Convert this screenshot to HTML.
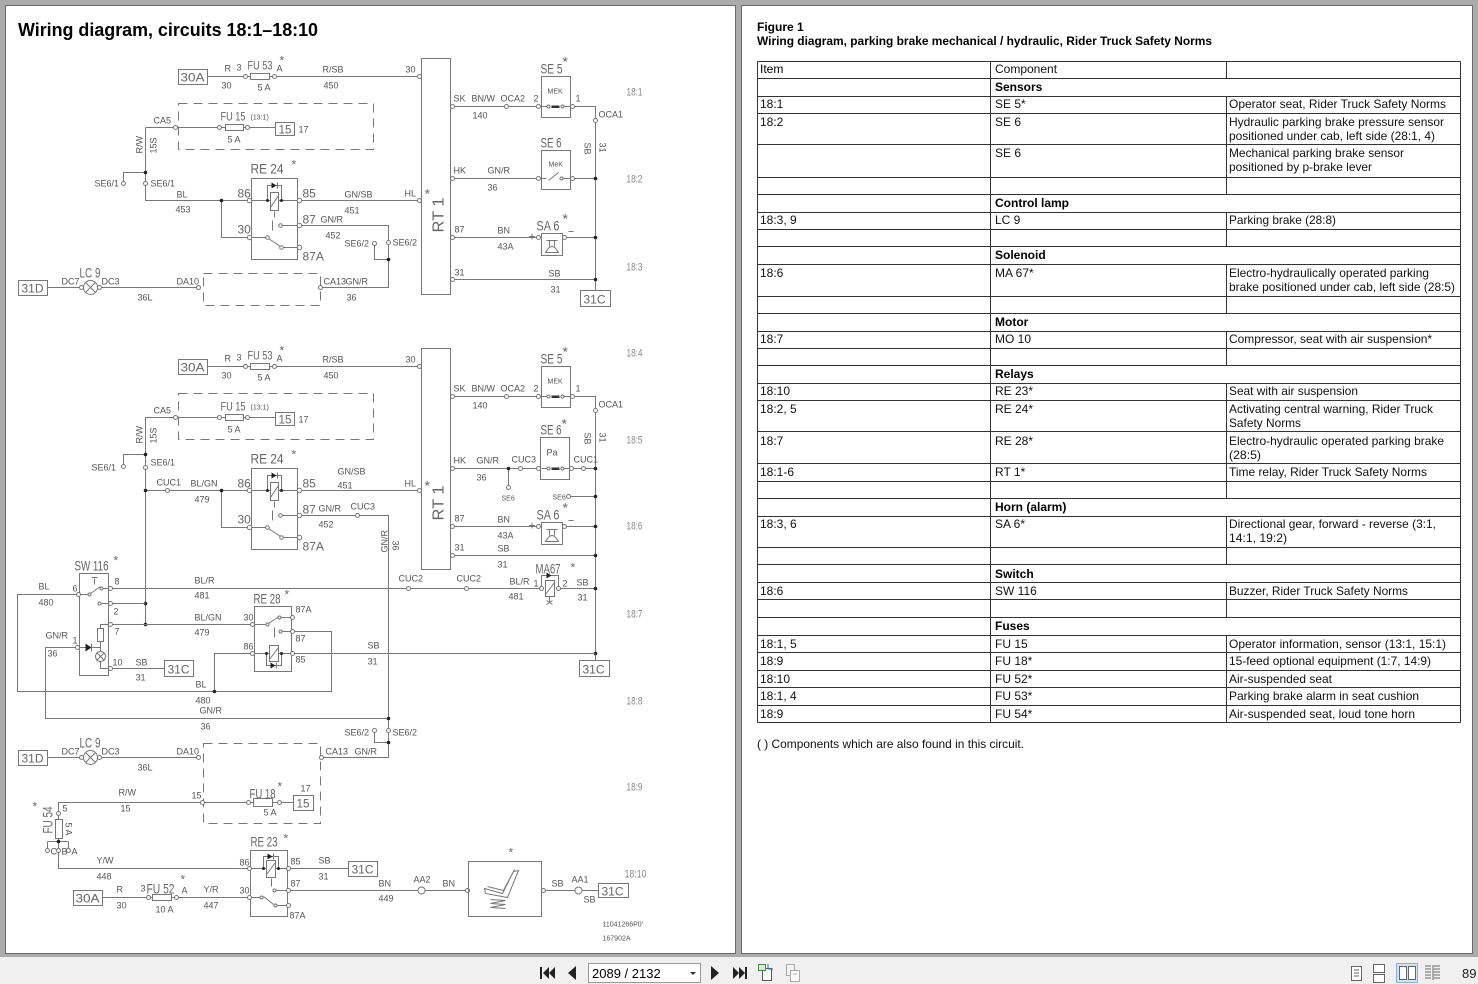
<!DOCTYPE html>
<html><head><meta charset="utf-8"><title>Wiring diagram, circuits 18:1–18:10</title>
<style>html,body{margin:0;padding:0;background:#ababab}svg{display:block}</style></head>
<body>
<svg width="1478" height="984" viewBox="0 0 1478 984" xmlns="http://www.w3.org/2000/svg">
<style>
text{font-family:"Liberation Sans",Arial,sans-serif}
.k{stroke:#777;fill:none;stroke-width:1}
.o{fill:#fff;stroke:#777;stroke-width:1}
.d{fill:#222}
.s{font-size:9px;fill:#555}
.x{font-size:7px;fill:#555}
.m{font-size:12px;fill:#666}
.b{font-size:14px;fill:#666}
.sec{font-size:11px;fill:#888}
.tt{font-size:12px;fill:#111}
.tb{font-size:12px;fill:#000;font-weight:bold}
.dash{stroke-dasharray:9 6}
.tl{stroke:#333;stroke-width:1;fill:none}
</style>
<rect x="0" y="0" width="1478" height="984" fill="#ababab"/>
<rect x="5.5" y="5.5" width="730" height="948" fill="#fff" stroke="#6a6a6a"/>
<rect x="741.5" y="5.5" width="731" height="948" fill="#fff" stroke="#6a6a6a"/>

<text x="18" y="36" font-size="18" font-weight="bold" fill="#000" textLength="300" lengthAdjust="spacingAndGlyphs">Wiring diagram, circuits 18:1–18:10</text>

<g transform="translate(0.5,0.5)">
<!-- ===== Fuse block A ===== -->
<g id="fa">
<rect class="k" x="178" y="69" width="29" height="15"/>
<path class="k" d="M207 76H243M247 76H250M269 76H272M276 76H417"/>
<rect class="k" x="250" y="73" width="19" height="6"/>
<circle class="o" cx="245" cy="76" r="2"/><circle class="o" cx="274" cy="76" r="2"/><circle class="o" cx="419" cy="76" r="2"/>
<rect class="k dash" x="178" y="103" width="195" height="46"/>
<path class="k" d="M145 127H173M177 127H217M221 127H225M243 127H245M249 127H275"/>
<rect class="k" x="225" y="124" width="18" height="6"/>
<rect class="k" x="275" y="122" width="19" height="13"/>
<circle class="o" cx="175" cy="127" r="2"/><circle class="o" cx="219" cy="127" r="2"/><circle class="o" cx="247" cy="127" r="2"/>
<text class="m" x="180" y="81" textLength="24" lengthAdjust="spacingAndGlyphs">30A</text>
<text class="s" x="224" y="71">R</text><text class="s" x="221" y="88">30</text><text class="s" x="236" y="70">3</text>
<text class="m" x="247" y="69" textLength="25" lengthAdjust="spacingAndGlyphs">FU 53</text><text class="m" x="279" y="64">*</text>
<text class="s" x="276" y="71">A</text><text class="s" x="257" y="90">5 A</text>
<text class="s" x="322" y="72">R/SB</text><text class="s" x="323" y="88">450</text><text class="s" x="405" y="72">30</text>
<text class="s" x="153" y="123">CA5</text>
<text class="m" x="220" y="120" textLength="25" lengthAdjust="spacingAndGlyphs">FU 15</text><text class="x" x="250" y="119">(13:1)</text>
<text class="m" x="278" y="133" textLength="13" lengthAdjust="spacingAndGlyphs">15</text><text class="s" x="298" y="132">17</text>
<text class="s" x="227" y="142">5 A</text>
<text class="s" transform="translate(142,153) rotate(-90)">R/W</text>
<text class="s" transform="translate(156,153) rotate(-90)">15S</text>
</g>
<g transform="translate(0,290)">
<rect class="k" x="178" y="69" width="29" height="15"/>
<path class="k" d="M207 76H243M247 76H250M269 76H272M276 76H417"/>
<rect class="k" x="250" y="73" width="19" height="6"/>
<circle class="o" cx="245" cy="76" r="2"/><circle class="o" cx="274" cy="76" r="2"/><circle class="o" cx="419" cy="76" r="2"/>
<rect class="k dash" x="178" y="103" width="195" height="46"/>
<path class="k" d="M145 127H173M177 127H217M221 127H225M243 127H245M249 127H275"/>
<rect class="k" x="225" y="124" width="18" height="6"/>
<rect class="k" x="275" y="122" width="19" height="13"/>
<circle class="o" cx="175" cy="127" r="2"/><circle class="o" cx="219" cy="127" r="2"/><circle class="o" cx="247" cy="127" r="2"/>
<text class="m" x="180" y="81" textLength="24" lengthAdjust="spacingAndGlyphs">30A</text>
<text class="s" x="224" y="71">R</text><text class="s" x="221" y="88">30</text><text class="s" x="236" y="70">3</text>
<text class="m" x="247" y="69" textLength="25" lengthAdjust="spacingAndGlyphs">FU 53</text><text class="m" x="279" y="64">*</text>
<text class="s" x="276" y="71">A</text><text class="s" x="257" y="90">5 A</text>
<text class="s" x="322" y="72">R/SB</text><text class="s" x="323" y="88">450</text><text class="s" x="405" y="72">30</text>
<text class="s" x="153" y="123">CA5</text>
<text class="m" x="220" y="120" textLength="25" lengthAdjust="spacingAndGlyphs">FU 15</text><text class="x" x="250" y="119">(13:1)</text>
<text class="m" x="278" y="133" textLength="13" lengthAdjust="spacingAndGlyphs">15</text><text class="s" x="298" y="132">17</text>
<text class="s" x="227" y="142">5 A</text>
<text class="s" transform="translate(142,153) rotate(-90)">R/W</text>
<text class="s" transform="translate(156,153) rotate(-90)">15S</text>
</g>

<!-- ===== Section A specifics ===== -->
<path class="k" d="M145 127V181M145 172H123V181M145 185V200H247M221 200V237H247"/>
<circle class="d" cx="145" cy="172" r="1.8"/><circle class="d" cx="221" cy="200" r="1.8"/>
<circle class="o" cx="123" cy="183" r="2"/><circle class="o" cx="145" cy="183" r="2"/>
<text class="s" x="94" y="186">SE6/1</text><text class="s" x="150" y="186">SE6/1</text>
<text class="s" x="176" y="197">BL</text><text class="s" x="175" y="212">453</text>

<!-- RE24 A -->
<g transform="translate(251,178)">
<rect class="k" x="0" y="0" width="46" height="81"/>
<path class="k" d="M0 22H19M27 22H46M16 22V7H30V22M23 33V39M21 42V52M0 59H14M17 60L29 68M32 69H46M31 47H46M19 29L27 17"/>
<rect class="k" x="19" y="14" width="8" height="18"/>
<polygon class="d" points="20,4 20,10 25,7"/><path class="k" d="M26 4V10"/>
<circle class="d" cx="16" cy="22" r="1.5"/><circle class="d" cx="30" cy="22" r="1.5"/>
<circle class="o" cx="-2" cy="22" r="2.2"/><circle class="o" cx="48" cy="22" r="2.2"/><circle class="o" cx="48" cy="47" r="2.2"/><circle class="o" cx="-2" cy="59" r="2.2"/><circle class="o" cx="48" cy="69" r="2.2"/>
<circle class="o" cx="29" cy="47" r="1.8"/><circle class="o" cx="16" cy="59" r="1.8"/><circle class="o" cx="30" cy="69" r="1.8"/>
<text class="m" x="-14" y="19">86</text><text class="m" x="51" y="19">85</text><text class="m" x="51" y="45">87</text><text class="m" x="-14" y="55">30</text><text class="m" x="51" y="82">87A</text>
<text class="b" x="-1" y="-5" textLength="33" lengthAdjust="spacingAndGlyphs">RE 24</text><text class="m" x="40" y="-10">*</text>
</g>
<path class="k" d="M301 200H417M301 225H388V240M374 245V259H388M388 244V287H322"/>
<circle class="o" cx="419" cy="200" r="2"/><circle class="o" cx="388" cy="242" r="2"/><circle class="o" cx="374" cy="243" r="2"/><circle class="o" cx="320" cy="287" r="2"/>
<circle class="d" cx="388" cy="259" r="1.8"/>
<text class="s" x="344" y="197">GN/SB</text><text class="s" x="344" y="213">451</text><text class="s" x="404" y="196">HL</text>
<text class="s" x="320" y="222">GN/R</text><text class="s" x="325" y="238">452</text>
<text class="s" x="392" y="245">SE6/2</text><text class="s" x="344" y="246">SE6/2</text>
<rect class="k dash" x="203" y="273" width="117" height="32"/>
<text class="s" x="323" y="284">CA13</text><text class="s" x="345" y="284">GN/R</text><text class="s" x="346" y="300">36</text>

<!-- LC9 A and B -->
<g id="lc">
<rect class="k" x="18" y="280" width="29" height="15"/>
<text class="m" x="21" y="292" textLength="22" lengthAdjust="spacingAndGlyphs">31D</text>
<path class="k" d="M47 287H79M101 287H196M85 282L95 292M85 292L95 282"/>
<circle class="o" cx="81" cy="287" r="2"/><circle class="k" cx="90" cy="287" r="7"/><circle class="o" cx="99" cy="287" r="2"/><circle class="o" cx="198" cy="287" r="2"/>
<text class="b" x="79" y="277" textLength="21" lengthAdjust="spacingAndGlyphs">LC 9</text>
<text class="s" x="61" y="284">DC7</text><text class="s" x="101" y="284">DC3</text><text class="s" x="137" y="300">36L</text><text class="s" x="176" y="284">DA10</text>
</g>
<g transform="translate(0,470)">
<rect class="k" x="18" y="280" width="29" height="15"/>
<text class="m" x="21" y="292" textLength="22" lengthAdjust="spacingAndGlyphs">31D</text>
<path class="k" d="M47 287H79M101 287H196M85 282L95 292M85 292L95 282"/>
<circle class="o" cx="81" cy="287" r="2"/><circle class="k" cx="90" cy="287" r="7"/><circle class="o" cx="99" cy="287" r="2"/><circle class="o" cx="198" cy="287" r="2"/>
<text class="b" x="79" y="277" textLength="21" lengthAdjust="spacingAndGlyphs">LC 9</text>
<text class="s" x="61" y="284">DC7</text><text class="s" x="101" y="284">DC3</text><text class="s" x="137" y="300">36L</text><text class="s" x="176" y="284">DA10</text>
</g>

<!-- RT1 A -->
<rect class="k" x="421" y="58" width="29" height="236"/>
<text transform="translate(443,232) rotate(-90)" font-size="16" fill="#666" textLength="35" lengthAdjust="spacingAndGlyphs">RT 1</text>
<text class="b" x="424" y="198">*</text>

<!-- SK row A -->
<g id="sk">
<path class="k" d="M454 106H504M508 106H536M574 106H595V118"/>
<circle class="o" cx="452" cy="106" r="2"/><circle class="o" cx="506" cy="106" r="2"/><circle class="o" cx="538" cy="106" r="2"/><circle class="o" cx="595" cy="120" r="2"/>
<g transform="translate(541,76)">
<rect class="k" x="0" y="0" width="29" height="41"/>
<path class="k" d="M0 30H5.5M22.5 30H29"/>
<circle class="o" cx="7" cy="30" r="1.5"/><rect x="10" y="29" width="8" height="2.5" fill="#333"/><circle class="o" cx="21" cy="30" r="1.5"/>
<circle class="o" cx="31" cy="30" r="2"/>
<text class="x" x="6" y="17">MEK</text>
</g>
<text class="s" x="453" y="101">SK</text><text class="s" x="471" y="101">BN/W</text><text class="s" x="500" y="101">OCA2</text><text class="s" x="472" y="118">140</text>
<text class="s" x="533" y="101">2</text><text class="s" x="575" y="101">1</text><text class="s" x="598" y="117">OCA1</text>
<text class="b" x="540" y="73" textLength="22" lengthAdjust="spacingAndGlyphs">SE 5</text><text class="b" x="562" y="66">*</text>
<text class="s" transform="translate(584,142) rotate(90)">SB</text><text class="s" transform="translate(599,142) rotate(90)">31</text>
</g>
<path class="k" d="M595 122V290"/>
<!-- HK A -->
<path class="k" d="M454 178H536M541 178H546M548 180L558 172M563 178H570M574 178H595"/>
<circle class="o" cx="452" cy="178" r="2"/><circle class="o" cx="538" cy="178" r="2"/><circle class="o" cx="561" cy="178" r="1.5"/><circle class="o" cx="572" cy="178" r="2"/>
<rect class="k" x="541" y="150" width="29" height="39"/>
<circle class="d" cx="595" cy="178" r="1.8"/>
<text class="x" x="548" y="166">MeK</text>
<text class="s" x="453" y="173">HK</text><text class="s" x="487" y="173">GN/R</text><text class="s" x="487" y="190">36</text>
<text class="b" x="540" y="147" textLength="21" lengthAdjust="spacingAndGlyphs">SE 6</text>
<!-- SA A -->
<g id="sa">
<path class="k" d="M454 237H536M566 237H595M568 231H573"/>
<circle class="o" cx="452" cy="237" r="2"/><circle class="o" cx="538" cy="237" r="2"/><circle class="o" cx="564" cy="237" r="2"/>
<rect class="k" x="541" y="233" width="21" height="22"/>
<path class="k" d="M546 240H557M549 240V246M554 240V246M545 252Q551.5 240 558 252Z"/>
<circle class="d" cx="595" cy="237" r="1.8"/>
<text class="s" x="454" y="232">87</text><text class="s" x="497" y="233">BN</text><text class="s" x="497" y="249">43A</text>
<text class="m" x="528" y="240">+</text>
<text class="b" x="536" y="230" textLength="23" lengthAdjust="spacingAndGlyphs">SA 6</text><text class="b" x="562" y="223">*</text>
</g>
<!-- 31 A -->
<path class="k" d="M454 279H595"/>
<circle class="o" cx="452" cy="279" r="2"/><circle class="d" cx="595" cy="279" r="1.8"/>
<text class="s" x="454" y="275">31</text><text class="s" x="548" y="276">SB</text><text class="s" x="550" y="292">31</text>
<rect class="k" x="580" y="290" width="30" height="16"/>
<text class="m" x="583" y="303" textLength="22" lengthAdjust="spacingAndGlyphs">31C</text>

<!-- section labels -->
<text class="sec" x="626" y="95" textLength="16" lengthAdjust="spacingAndGlyphs">18:1</text>
<text class="sec" x="626" y="182" textLength="16" lengthAdjust="spacingAndGlyphs">18:2</text>
<text class="sec" x="626" y="270" textLength="16" lengthAdjust="spacingAndGlyphs">18:3</text>
<text class="sec" x="626" y="356" textLength="16" lengthAdjust="spacingAndGlyphs">18:4</text>
<text class="sec" x="626" y="443" textLength="16" lengthAdjust="spacingAndGlyphs">18:5</text>
<text class="sec" x="626" y="529" textLength="16" lengthAdjust="spacingAndGlyphs">18:6</text>
<text class="sec" x="626" y="617" textLength="16" lengthAdjust="spacingAndGlyphs">18:7</text>
<text class="sec" x="626" y="704" textLength="16" lengthAdjust="spacingAndGlyphs">18:8</text>
<text class="sec" x="626" y="790" textLength="16" lengthAdjust="spacingAndGlyphs">18:9</text>
<text class="sec" x="624" y="877" textLength="22" lengthAdjust="spacingAndGlyphs">18:10</text>

<!-- ===== Section B ===== -->
<path class="k" d="M145 417V454H123V464M145 454V465M145 469V624M145 490H165M169 490H247M221 490V527H247"/>
<circle class="d" cx="145" cy="454" r="1.8"/><circle class="d" cx="145" cy="490" r="1.8"/><circle class="d" cx="221" cy="490" r="1.8"/>
<circle class="d" cx="145" cy="603" r="1.8"/><circle class="d" cx="145" cy="624" r="1.8"/>
<circle class="o" cx="123" cy="466" r="2"/><circle class="o" cx="145" cy="467" r="2"/><circle class="o" cx="167" cy="490" r="2"/>
<text class="s" x="91" y="470">SE6/1</text><text class="s" x="150" y="465">SE6/1</text>
<text class="s" x="156" y="485">CUC1</text><text class="s" x="190" y="486">BL/GN</text><text class="s" x="194" y="502">479</text>
<!-- RE24 B -->
<g transform="translate(251,468)">
<rect class="k" x="0" y="0" width="46" height="81"/>
<path class="k" d="M0 22H19M27 22H46M16 22V7H30V22M23 33V39M21 42V52M0 59H14M17 60L29 68M32 69H46M31 47H46M19 29L27 17"/>
<rect class="k" x="19" y="14" width="8" height="18"/>
<polygon class="d" points="20,4 20,10 25,7"/><path class="k" d="M26 4V10"/>
<circle class="d" cx="16" cy="22" r="1.5"/><circle class="d" cx="30" cy="22" r="1.5"/>
<circle class="o" cx="-2" cy="22" r="2.2"/><circle class="o" cx="48" cy="22" r="2.2"/><circle class="o" cx="48" cy="47" r="2.2"/><circle class="o" cx="-2" cy="59" r="2.2"/><circle class="o" cx="48" cy="69" r="2.2"/>
<circle class="o" cx="29" cy="47" r="1.8"/><circle class="o" cx="16" cy="59" r="1.8"/><circle class="o" cx="30" cy="69" r="1.8"/>
<text class="m" x="-14" y="19">86</text><text class="m" x="51" y="19">85</text><text class="m" x="51" y="45">87</text><text class="m" x="-14" y="55">30</text><text class="m" x="51" y="82">87A</text>
<text class="b" x="-1" y="-5" textLength="33" lengthAdjust="spacingAndGlyphs">RE 24</text><text class="m" x="40" y="-10">*</text>
</g>
<path class="k" d="M301 490H417M301 515H355M359 515H388V728M388 732V757H323"/>
<circle class="o" cx="419" cy="490" r="2"/><circle class="o" cx="357" cy="515" r="2"/><circle class="o" cx="388" cy="730" r="2"/><circle class="o" cx="321" cy="757" r="2"/>
<text class="s" x="337" y="474">GN/SB</text><text class="s" x="337" y="488">451</text><text class="s" x="404" y="486">HL</text>
<text class="s" x="318" y="511">GN/R</text><text class="s" x="318" y="527">452</text><text class="s" x="350" y="509">CUC3</text>
<text class="s" transform="translate(387,552) rotate(-90)">GN/R</text>
<text class="s" transform="translate(392,540) rotate(90)">36</text>
<!-- RT1 B -->
<rect class="k" x="421" y="348" width="29" height="221"/>
<text transform="translate(443,520) rotate(-90)" font-size="16" fill="#666" textLength="35" lengthAdjust="spacingAndGlyphs">RT 1</text>
<text class="b" x="424" y="490">*</text>
<!-- SK B -->
<g transform="translate(0,290)">
<path class="k" d="M454 106H504M508 106H536M574 106H595V118"/>
<circle class="o" cx="452" cy="106" r="2"/><circle class="o" cx="506" cy="106" r="2"/><circle class="o" cx="538" cy="106" r="2"/><circle class="o" cx="595" cy="120" r="2"/>
<g transform="translate(541,76)">
<rect class="k" x="0" y="0" width="29" height="41"/>
<path class="k" d="M0 30H5.5M22.5 30H29"/>
<circle class="o" cx="7" cy="30" r="1.5"/><rect x="10" y="29" width="8" height="2.5" fill="#333"/><circle class="o" cx="21" cy="30" r="1.5"/>
<circle class="o" cx="31" cy="30" r="2"/>
<text class="x" x="6" y="17">MEK</text>
</g>
<text class="s" x="453" y="101">SK</text><text class="s" x="471" y="101">BN/W</text><text class="s" x="500" y="101">OCA2</text><text class="s" x="472" y="118">140</text>
<text class="s" x="533" y="101">2</text><text class="s" x="575" y="101">1</text><text class="s" x="598" y="117">OCA1</text>
<text class="b" x="540" y="73" textLength="22" lengthAdjust="spacingAndGlyphs">SE 5</text><text class="b" x="562" y="66">*</text>
<text class="s" transform="translate(584,142) rotate(90)">SB</text><text class="s" transform="translate(599,142) rotate(90)">31</text>
</g>
<path class="k" d="M595 412V660"/>
<!-- HK B -->
<path class="k" d="M454 468H506M508 468V485M510 468H518M522 468H536M541 468H546M564 468H569M573 468H581M585 468H595M570 496H595"/>
<circle class="o" cx="452" cy="468" r="2"/><circle class="d" cx="508" cy="468" r="1.8"/><circle class="o" cx="508" cy="487" r="2"/>
<circle class="o" cx="520" cy="468" r="2"/><circle class="o" cx="538" cy="468" r="2"/>
<rect class="k" x="540" y="437" width="29" height="42"/>
<circle class="o" cx="548" cy="468" r="1.5"/><rect x="551" y="467" width="8" height="2.5" fill="#333"/><circle class="o" cx="562" cy="468" r="1.5"/>
<circle class="o" cx="571" cy="468" r="2"/><circle class="o" cx="583" cy="468" r="2"/><circle class="d" cx="595" cy="468" r="1.8"/>
<circle class="o" cx="568" cy="496" r="2"/><circle class="d" cx="595" cy="496" r="1.8"/>
<text class="s" x="453" y="463">HK</text><text class="s" x="476" y="463">GN/R</text><text class="s" x="476" y="480">36</text>
<text class="s" x="511" y="462">CUC3</text><text class="s" x="573" y="462">CUC1</text>
<text class="x" x="501" y="500">SE6</text><text class="x" x="552" y="499">SE6</text>
<text class="s" x="546" y="455">Pa</text>
<text class="b" x="540" y="434" textLength="21" lengthAdjust="spacingAndGlyphs">SE 6</text><text class="b" x="561" y="428">*</text>
<!-- SA B -->
<g transform="translate(0,289)">
<path class="k" d="M454 237H536M566 237H595M568 231H573"/>
<circle class="o" cx="452" cy="237" r="2"/><circle class="o" cx="538" cy="237" r="2"/><circle class="o" cx="564" cy="237" r="2"/>
<rect class="k" x="541" y="233" width="21" height="22"/>
<path class="k" d="M546 240H557M549 240V246M554 240V246M545 252Q551.5 240 558 252Z"/>
<circle class="d" cx="595" cy="237" r="1.8"/>
<text class="s" x="454" y="232">87</text><text class="s" x="497" y="233">BN</text><text class="s" x="497" y="249">43A</text>
<text class="m" x="528" y="240">+</text>
<text class="b" x="536" y="230" textLength="23" lengthAdjust="spacingAndGlyphs">SA 6</text><text class="b" x="562" y="223">*</text>
</g>
<!-- 31 B -->
<path class="k" d="M454 555H595"/>
<circle class="o" cx="452" cy="555" r="2"/><circle class="d" cx="595" cy="555" r="1.8"/>
<text class="s" x="454" y="550">31</text><text class="s" x="497" y="551">SB</text><text class="s" x="497" y="567">31</text>
<!-- BL/R & MA67 -->
<path class="k" d="M112 588H406M410 588H464M468 588H539M541 586V575H558V586M560 588H595M545 594L554 582M549 596V602M546 600L552 604M546 604L552 600"/>
<rect class="k" x="545" y="580" width="9" height="16"/>
<polygon class="d" points="546,572 546,578 551,575"/>
<circle class="o" cx="408" cy="588" r="2"/><circle class="o" cx="466" cy="588" r="2"/><circle class="o" cx="541" cy="588" r="2"/><circle class="o" cx="558" cy="588" r="2"/>
<circle class="d" cx="595" cy="588" r="1.8"/>
<text class="s" x="398" y="581">CUC2</text><text class="s" x="456" y="581">CUC2</text>
<text class="s" x="509" y="584">BL/R</text><text class="s" x="508" y="599">481</text>
<text class="s" x="533" y="586">1</text><text class="s" x="562" y="586">2</text>
<text class="s" x="576" y="585">SB</text><text class="s" x="577" y="600">31</text>
<text class="b" x="535" y="573" textLength="25" lengthAdjust="spacingAndGlyphs">MA67</text><text class="m" x="570" y="571">*</text>
<circle class="d" cx="595" cy="653" r="1.8"/>
<rect class="k" x="579" y="660" width="30" height="16"/>
<text class="m" x="582" y="673" textLength="22" lengthAdjust="spacingAndGlyphs">31C</text>

<!-- SW116 -->
<rect class="k" x="79" y="573" width="29" height="102"/>
<text class="b" x="74" y="570" textLength="34" lengthAdjust="spacingAndGlyphs">SW 116</text><text class="m" x="113" y="564">*</text>
<path class="k" d="M76 594H17V691H331V631H294M214 691V653H250M80 594H87M90 593L100 586M103 588H108M91 577H97M94 578V584M101 603H108M112 603H145M112 624H250M108 624H100V628M100 641V651M100 661V668H108M112 668H164M75 647H45V718H386M79 647H85M91 647H100M96 652L104 660M96 660L104 652"/>
<rect class="k" x="97" y="628" width="6" height="13"/>
<polygon class="d" points="85,643 85,651 91,647"/><path class="k" d="M91 643V651"/>
<circle class="k" cx="100" cy="656" r="5"/>
<circle class="o" cx="78" cy="594" r="2"/><circle class="o" cx="89" cy="594" r="1.5"/><circle class="o" cx="101" cy="588" r="1.5"/><circle class="o" cx="110" cy="588" r="2"/>
<circle class="o" cx="99" cy="603" r="1.5"/><circle class="o" cx="110" cy="603" r="2"/><circle class="o" cx="110" cy="624" r="2"/>
<circle class="o" cx="77" cy="647" r="2"/><circle class="o" cx="110" cy="668" r="2"/>
<circle class="d" cx="214" cy="691" r="1.8"/><circle class="d" cx="388" cy="718" r="1.8"/>
<rect class="k" x="164" y="660" width="29" height="16"/>
<text class="m" x="167" y="673" textLength="22" lengthAdjust="spacingAndGlyphs">31C</text>
<text class="s" x="38" y="589">BL</text><text class="s" x="38" y="605">480</text>
<text class="s" x="72" y="591">6</text><text class="s" x="114" y="584">8</text><text class="s" x="113" y="614">2</text><text class="s" x="114" y="634">7</text>
<text class="s" x="72" y="643">1</text><text class="s" x="112" y="665">10</text>
<text class="s" x="135" y="665">SB</text><text class="s" x="135" y="680">31</text>
<text class="s" x="45" y="638">GN/R</text><text class="s" x="47" y="656">36</text>
<text class="s" x="194" y="583">BL/R</text><text class="s" x="194" y="598">481</text>
<text class="s" x="194" y="620">BL/GN</text><text class="s" x="194" y="635">479</text>
<text class="s" x="195" y="687">BL</text><text class="s" x="195" y="703">480</text>
<text class="s" x="199" y="713">GN/R</text><text class="s" x="200" y="729">36</text>

<!-- RE28 -->
<rect class="k" x="254" y="606" width="37" height="65"/>
<text class="b" x="253" y="603" textLength="27" lengthAdjust="spacingAndGlyphs">RE 28</text><text class="m" x="284" y="598">*</text>
<path class="k" d="M254 624H265M268 623L277 617M281 617H290M282 631H290M274 627V637M254 653H269M278 653H290M266 653V665H281V653M269 659L278 647M294 653H595"/>
<rect class="k" x="269" y="645" width="9" height="16"/>
<polygon class="d" points="270,662 270,668 275,665"/><path class="k" d="M276 662V668"/>
<circle class="d" cx="266" cy="653" r="1.5"/><circle class="d" cx="281" cy="653" r="1.5"/>
<circle class="o" cx="252" cy="624" r="2"/><circle class="o" cx="267" cy="624" r="1.5"/><circle class="o" cx="279" cy="617" r="1.5"/><circle class="o" cx="292" cy="617" r="2"/>
<circle class="o" cx="280" cy="631" r="1.5"/><circle class="o" cx="292" cy="631" r="2"/><circle class="o" cx="252" cy="653" r="2"/><circle class="o" cx="292" cy="653" r="2"/>
<text class="s" x="243" y="620">30</text><text class="s" x="295" y="612">87A</text><text class="s" x="295" y="641">87</text>
<text class="s" x="243" y="649">86</text><text class="s" x="295" y="662">85</text>
<text class="s" x="367" y="648">SB</text><text class="s" x="367" y="664">31</text>

<!-- SE6/2 B -->
<path class="k" d="M374 732V742H388"/>
<circle class="o" cx="374" cy="730" r="2"/><circle class="d" cx="388" cy="742" r="1.8"/>
<text class="s" x="392" y="735">SE6/2</text><text class="s" x="344" y="735">SE6/2</text>
<text class="s" x="325" y="754">CA13</text><text class="s" x="354" y="754">GN/R</text>
<rect class="k dash" x="203" y="743" width="117" height="80"/>

<!-- FU18 / FU54 -->
<path class="k" d="M58 811V802H200M204 802H246M250 802H253M272 802H277M281 802H293M58 815V819M58 838V841M47 841H68M47 841V848M58 841V848M68 841V848M58 852V868H247"/>
<rect class="k" x="253" y="798" width="19" height="8"/>
<rect class="k" x="293" y="795" width="20" height="15"/>
<rect class="k" x="55" y="819" width="7" height="19"/>
<circle class="o" cx="202" cy="802" r="2"/><circle class="o" cx="248" cy="802" r="2"/><circle class="o" cx="279" cy="802" r="2"/>
<circle class="o" cx="58" cy="813" r="2"/><circle class="d" cx="58" cy="841" r="1.8"/>
<circle class="o" cx="47" cy="850" r="2"/><circle class="o" cx="58" cy="850" r="2"/><circle class="o" cx="68" cy="850" r="2"/>
<text class="s" x="118" y="795">R/W</text><text class="s" x="120" y="811">15</text><text class="s" x="191" y="798">15</text>
<text class="b" x="249" y="798" textLength="26" lengthAdjust="spacingAndGlyphs">FU 18</text><text class="m" x="277" y="790">*</text>
<text class="s" x="300" y="791">17</text><text class="m" x="296" y="807" textLength="13" lengthAdjust="spacingAndGlyphs">15</text>
<text class="s" x="263" y="815">5 A</text>
<text class="m" x="32" y="810">*</text>
<text class="b" transform="translate(52,833) rotate(-90)" textLength="27" lengthAdjust="spacingAndGlyphs">FU 54</text>
<text class="s" x="62" y="811">5</text>
<text class="s" transform="translate(65,822) rotate(90)">5 A</text>
<text class="s" x="50" y="854">C</text><text class="s" x="61" y="854">B</text><text class="s" x="71" y="854">A</text>
<text class="s" x="96" y="863">Y/W</text><text class="s" x="96" y="879">448</text>

<!-- RE23 -->
<rect class="k" x="250" y="850" width="37" height="66"/>
<text class="b" x="250" y="846" textLength="27" lengthAdjust="spacingAndGlyphs">RE 23</text><text class="m" x="283" y="842">*</text>
<path class="k" d="M251 868H266M275 868H286M263 868V856H278V868M266 874L275 862M271 878V886M251 897H260M263 896L273 904M277 905H286M276 890H286M290 868H348M290 890H418M102 897H146M150 897H152M171 897H174M178 897H247"/>
<rect class="k" x="266" y="860" width="9" height="17"/>
<polygon class="d" points="267,853 267,859 272,856"/><path class="k" d="M273 853V859"/>
<circle class="d" cx="263" cy="868" r="1.5"/><circle class="d" cx="278" cy="868" r="1.5"/>
<circle class="o" cx="249" cy="868" r="2"/><circle class="o" cx="288" cy="868" r="2"/><circle class="o" cx="288" cy="890" r="2"/><circle class="o" cx="274" cy="890" r="1.5"/>
<circle class="o" cx="249" cy="897" r="2"/><circle class="o" cx="261" cy="897" r="1.5"/><circle class="o" cx="275" cy="905" r="1.5"/><circle class="o" cx="288" cy="905" r="2"/>
<text class="s" x="239" y="865">86</text><text class="s" x="290" y="864">85</text><text class="s" x="290" y="886">87</text>
<text class="s" x="239" y="893">30</text><text class="s" x="289" y="918">87A</text>
<rect class="k" x="348" y="861" width="29" height="15"/>
<text class="m" x="351" y="873" textLength="22" lengthAdjust="spacingAndGlyphs">31C</text>
<text class="s" x="318" y="863">SB</text><text class="s" x="318" y="879">31</text>
<!-- FU52 -->
<rect class="k" x="73" y="890" width="29" height="15"/>
<text class="m" x="75" y="902" textLength="24" lengthAdjust="spacingAndGlyphs">30A</text>
<rect class="k" x="152" y="894" width="19" height="6"/>
<circle class="o" cx="148" cy="897" r="2"/><circle class="o" cx="176" cy="897" r="2"/>
<text class="s" x="116" y="892">R</text><text class="s" x="116" y="908">30</text><text class="s" x="140" y="891">3</text>
<text class="b" x="146" y="893" textLength="28" lengthAdjust="spacingAndGlyphs">FU 52</text><text class="m" x="180" y="883">*</text>
<text class="s" x="181" y="893">A</text><text class="s" x="155" y="912">10 A</text>
<text class="s" x="203" y="892">Y/R</text><text class="s" x="203" y="908">447</text>
<!-- seat -->
<path class="k" d="M424 890H465M545 890H575M581 890H598"/>
<circle class="o" cx="421" cy="890" r="3.5"/><circle class="o" cx="467" cy="890" r="2"/><circle class="o" cx="543" cy="890" r="2"/><circle class="o" cx="578" cy="890" r="3.5"/>
<rect class="k" x="468" y="861" width="73" height="55"/>
<path class="k" d="M484 888L502 893L513 871L518 870L507 897L485 893ZM487 886L503 890L514 869M490 899L505 900L490 903L505 904L490 907L505 908"/>
<rect class="k" x="598" y="883" width="30" height="14"/>
<text class="m" x="601" y="895" textLength="22" lengthAdjust="spacingAndGlyphs">31C</text>
<text class="s" x="378" y="886">BN</text><text class="s" x="378" y="901">449</text>
<text class="s" x="413" y="882">AA2</text><text class="s" x="442" y="886">BN</text>
<text class="m" x="508" y="856">*</text>
<text class="s" x="551" y="886">SB</text><text class="s" x="571" y="882">AA1</text><text class="s" x="583" y="902">SB</text>
<text class="x" x="602" y="926">11041266P0'</text><text class="x" x="602" y="940">167902A</text>
</g>

<!-- ===== Right page ===== -->
<text x="757" y="31" class="tb">Figure 1</text>
<text x="757" y="45" class="tb" textLength="455" lengthAdjust="spacingAndGlyphs">Wiring diagram, parking brake mechanical / hydraulic, Rider Truck Safety Norms</text>
<g transform="translate(0.5,0.5)">
<path class="tl" d="M757 61H1460M757 78H1460M757 96H1460M757 113H1460M757 144H1460M757 177H1460M757 194H1460M757 212H1460M757 229H1460M757 246H1460M757 264H1460M757 296H1460M757 313H1460M757 331H1460M757 348H1460M757 365H1460M757 383H1460M757 400H1460M757 431H1460M757 463H1460M757 481H1460M757 498H1460M757 516H1460M757 547H1460M757 564H1460M757 582H1460M757 599H1460M757 617H1460M757 635H1460M757 652H1460M757 670H1460M757 687H1460M757 705H1460M757 722H1460"/>
<path class="tl" d="M757 61V722M1460 61V722M990 61V722"/>
<path class="tl" d="M1226 61V78M1226 96V194M1226 212V246M1226 264V313M1226 331V365M1226 383V498M1226 516V564M1226 582V617M1226 635V722"/>
</g>
<g class="tt">
<text x="760" y="73" class="tb" font-weight="normal" style="font-weight:normal">Item</text>
<text x="995" y="73">Component</text>
<text x="995" y="91" class="tb">Sensors</text>
<text x="760" y="108">18:1</text><text x="995" y="108">SE 5*</text><text x="1229" y="108" textLength="217" lengthAdjust="spacingAndGlyphs">Operator seat, Rider Truck Safety Norms</text>
<text x="760" y="126">18:2</text><text x="995" y="126">SE 6</text><text x="1229" y="126" textLength="215" lengthAdjust="spacingAndGlyphs">Hydraulic parking brake pressure sensor</text>
<text x="1229" y="140" textLength="206" lengthAdjust="spacingAndGlyphs">positioned under cab, left side (28:1, 4)</text>
<text x="995" y="157">SE 6</text><text x="1229" y="157" textLength="175" lengthAdjust="spacingAndGlyphs">Mechanical parking brake sensor</text>
<text x="1229" y="171" textLength="143" lengthAdjust="spacingAndGlyphs">positioned by p-brake lever</text>
<text x="995" y="207" class="tb">Control lamp</text>
<text x="760" y="224">18:3, 9</text><text x="995" y="224">LC 9</text><text x="1229" y="224" textLength="107" lengthAdjust="spacingAndGlyphs">Parking brake (28:8)</text>
<text x="995" y="259" class="tb">Solenoid</text>
<text x="760" y="277">18:6</text><text x="995" y="277">MA 67*</text><text x="1229" y="277" textLength="200" lengthAdjust="spacingAndGlyphs">Electro-hydraulically operated parking</text>
<text x="1229" y="291" textLength="226" lengthAdjust="spacingAndGlyphs">brake positioned under cab, left side (28:5)</text>
<text x="995" y="326" class="tb">Motor</text>
<text x="760" y="343">18:7</text><text x="995" y="343">MO 10</text><text x="1229" y="343" textLength="203" lengthAdjust="spacingAndGlyphs">Compressor, seat with air suspension*</text>
<text x="995" y="378" class="tb">Relays</text>
<text x="760" y="395">18:10</text><text x="995" y="395">RE 23*</text><text x="1229" y="395" textLength="129" lengthAdjust="spacingAndGlyphs">Seat with air suspension</text>
<text x="760" y="413">18:2, 5</text><text x="995" y="413">RE 24*</text><text x="1229" y="413" textLength="204" lengthAdjust="spacingAndGlyphs">Activating central warning, Rider Truck</text>
<text x="1229" y="427" textLength="72" lengthAdjust="spacingAndGlyphs">Safety Norms</text>
<text x="760" y="445">18:7</text><text x="995" y="445">RE 28*</text><text x="1229" y="445" textLength="215" lengthAdjust="spacingAndGlyphs">Electro-hydraulic operated parking brake</text>
<text x="1229" y="459" textLength="32" lengthAdjust="spacingAndGlyphs">(28:5)</text>
<text x="760" y="476">18:1-6</text><text x="995" y="476">RT 1*</text><text x="1229" y="476" textLength="198" lengthAdjust="spacingAndGlyphs">Time relay, Rider Truck Safety Norms</text>
<text x="995" y="511" class="tb">Horn (alarm)</text>
<text x="760" y="528">18:3, 6</text><text x="995" y="528">SA 6*</text><text x="1229" y="528" textLength="207" lengthAdjust="spacingAndGlyphs">Directional gear, forward - reverse (3:1,</text>
<text x="1229" y="542" textLength="58" lengthAdjust="spacingAndGlyphs">14:1, 19:2)</text>
<text x="995" y="578" class="tb">Switch</text>
<text x="760" y="595">18:6</text><text x="995" y="595">SW 116</text><text x="1229" y="595" textLength="179" lengthAdjust="spacingAndGlyphs">Buzzer, Rider Truck Safety Norms</text>
<text x="995" y="630" class="tb">Fuses</text>
<text x="760" y="648">18:1, 5</text><text x="995" y="648">FU 15</text><text x="1229" y="648" textLength="217" lengthAdjust="spacingAndGlyphs">Operator information, sensor (13:1, 15:1)</text>
<text x="760" y="665">18:9</text><text x="995" y="665">FU 18*</text><text x="1229" y="665" textLength="202" lengthAdjust="spacingAndGlyphs">15-feed optional equipment (1:7, 14:9)</text>
<text x="760" y="683">18:10</text><text x="995" y="683">FU 52*</text><text x="1229" y="683" textLength="103" lengthAdjust="spacingAndGlyphs">Air-suspended seat</text>
<text x="760" y="700">18:1, 4</text><text x="995" y="700">FU 53*</text><text x="1229" y="700" textLength="190" lengthAdjust="spacingAndGlyphs">Parking brake alarm in seat cushion</text>
<text x="760" y="718">18:9</text><text x="995" y="718">FU 54*</text><text x="1229" y="718" textLength="186" lengthAdjust="spacingAndGlyphs">Air-suspended seat, loud tone horn</text>
<text x="757" y="748" textLength="267" lengthAdjust="spacingAndGlyphs">( ) Components which are also found in this circuit.</text>
</g>

<!-- ===== Toolbar ===== -->
<rect x="0" y="957" width="1478" height="27" fill="#f0f0f0"/>
<g fill="#222">
<rect x="540" y="967" width="2" height="12"/>
<polygon points="549,967 543,973 549,979"/><polygon points="555,967 549,973 555,979"/>
<polygon points="576,966 568,973 576,980"/>
<polygon points="711,966 719,973 711,980"/>
<polygon points="733,967 739,973 733,979"/><polygon points="739,967 745,973 739,979"/><rect x="745" y="967" width="2" height="12"/>
</g>
<rect x="588.5" y="963.5" width="112" height="19" fill="#fff" stroke="#9a9a9a"/>
<text x="592" y="978" font-size="13" fill="#000">2089 / 2132</text>
<polygon points="690,972 696,972 693,975" fill="#333"/>
<g>
<rect x="762.5" y="968.5" width="9" height="12" fill="#fff" stroke="#555"/>
<rect x="758.5" y="964.5" width="7" height="6" fill="#d8ecd8" stroke="#4a8a4a"/>
<path d="M768 964v5h5" stroke="#2a7ab0" fill="none"/>
<rect x="786.5" y="964.5" width="8" height="11" fill="#f4f4f4" stroke="#aaa"/>
<rect x="790.5" y="970.5" width="9" height="11" fill="#fff" stroke="#aaa"/>
<path d="M793 974h4" stroke="#8bc38b"/>
</g>
<g fill="none" stroke="#666">
<rect x="1351.5" y="966.5" width="10" height="14" fill="#fff"/><path d="M1354 970h5M1354 973h5M1354 976h5"/>
<rect x="1373.5" y="964.5" width="11" height="8" fill="#fff"/><rect x="1373.5" y="974.5" width="11" height="8" fill="#fff"/>
<rect x="1396.5" y="963.5" width="21" height="19" fill="#cfe3f5" stroke="#8fb0d8"/>
<rect x="1399.5" y="966.5" width="7" height="13" fill="#fff"/><rect x="1408.5" y="966.5" width="7" height="13" fill="#fff"/>
<path d="M1425 966h6M1425 969h6M1425 972h6M1425 975h6M1425 978h6M1434 966h6M1434 969h6M1434 972h6M1434 975h6M1434 978h6M1433 965v15"/>
</g>
<text x="1462" y="978" font-size="13" fill="#222">89</text>
</svg>
</body></html>
